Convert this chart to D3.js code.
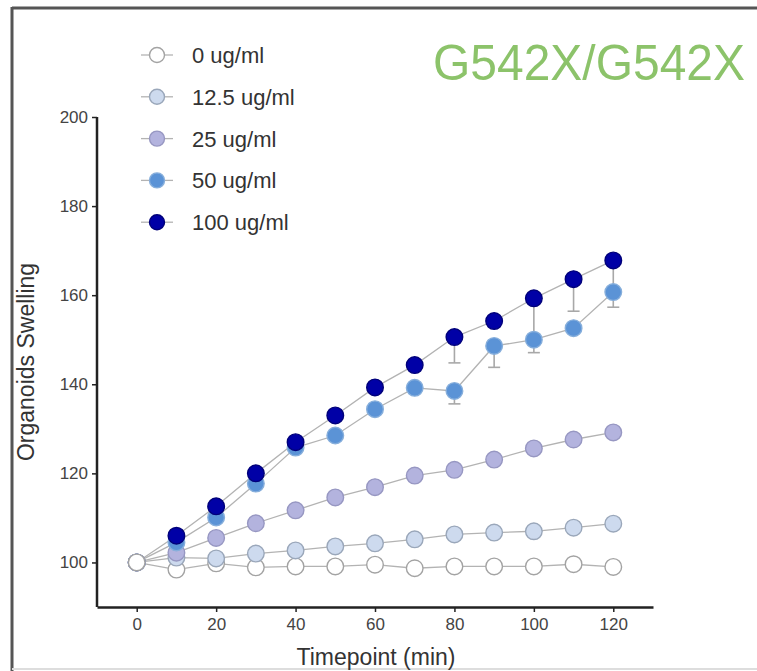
<!DOCTYPE html>
<html lang="en">
<head>
	<meta charset="utf-8">
	<title>Organoids swelling</title>
	<style>
		body { margin: 0; background: #fff; }
		text { font-family: "Liberation Sans", Arial, sans-serif; }
		.axis path, .axis line { stroke: #222; }
		.axis text { fill: #444; font-size: 17px; }
		.link { fill: none; stroke: #b3b3b3; stroke-width: 1.3px; }
		.err { stroke: #a8a8a8; stroke-width: 1.6px; }
	</style>
</head>
<body>
	<div id="chart"></div>

	<script src="https://cdn.jsdelivr.net/npm/d3@7"></script>
	<script>
		var width = 757,
			height = 671;

		// data
		var timepoints = [0, 10, 20, 30, 40, 50, 60, 70, 80, 90, 100, 110, 120];
		var doses = ["0 ug/ml", "12.5 ug/ml", "25 ug/ml", "50 ug/ml", "100 ug/ml"];

		var swelling0 = [100, 98.4, 99.8, 98.9, 99.1, 99.1, 99.5, 98.7, 99.1, 99.1, 99.1, 99.6, 99];
		var swelling12 = [100, 101.1, 100.9, 102, 102.7, 103.6, 104.3, 105.2, 106.3, 106.7, 107, 107.8, 108.7];
		var swelling25 = [100, 102.2, 105.5, 108.8, 111.7, 114.6, 116.9, 119.5, 120.8, 123.1, 125.6, 127.6, 129.2];
		var swelling50 = [100, 104.5, 110.1, 117.7, 125.8, 128.5, 134.4, 139.2, 138.5, 148.6, 150, 152.6, 160.7];
		var swelling100 = [100, 106, 112.6, 120, 127, 133, 139.3, 144.3, 150.6, 154.2, 159.3, 163.6, 167.8];

		// lower error bars (SEM), only where visible
		var sem50 = [0, 0, 0, 0, 0, 0, 0, 0, 2.9, 4.8, 2.9, 0, 3.4];
		var sem100 = [0, 0, 0, 0, 0, 0, 0, 0.8, 5.8, 1, 8.5, 7.2, 6];

		var xTicks = [0, 20, 40, 60, 80, 100, 120];
		var yTicks = [100, 120, 140, 160, 180, 200];

		var fills = ["#ffffff", "#cddaee", "#b3b3de", "#5b93d6", "#0000a6"];
		var strokes = ["#a3a3a3", "#9aa7ba", "#9797c2", "#86aedb", "#00007a"];

		var series = [
			{ name: doses[0], values: swelling0, sem: null },
			{ name: doses[1], values: swelling12, sem: null },
			{ name: doses[2], values: swelling25, sem: null },
			{ name: doses[3], values: swelling50, sem: sem50 },
			{ name: doses[4], values: swelling100, sem: sem100 }
		];

		var svg = d3.select("#chart")
			.append("svg")
			.attr("width", width)
			.attr("height", height);

		// picture frame
		svg.append("line")
			.attr("x1", 12).attr("x2", width).attr("y1", 8).attr("y2", 8)
			.attr("stroke", "#555").attr("stroke-width", 3);
		svg.append("line")
			.attr("x1", 12).attr("x2", 12).attr("y1", 7).attr("y2", height)
			.attr("stroke", "#555").attr("stroke-width", 3);
		svg.append("line")
			.attr("x1", 12).attr("x2", width).attr("y1", 669).attr("y2", 669)
			.attr("stroke", "#ddd").attr("stroke-width", 2);

		var x = d3.scaleLinear().domain([-10, 130]).range([97, 653]);
		var y = d3.scaleLinear().domain([90, 200]).range([607, 117]);

		// axes
		var xAxis = svg.append("g")
			.attr("class", "axis")
			.attr("transform", "translate(0,607)")
			.call(d3.axisBottom(x).tickValues(xTicks).tickSize(5).tickPadding(6).tickSizeOuter(0));
		xAxis.select(".domain").attr("stroke-width", 2.5);
		xAxis.selectAll(".tick line").attr("stroke-width", 1.5);

		var yAxis = svg.append("g")
			.attr("class", "axis")
			.attr("transform", "translate(97,0)")
			.call(d3.axisLeft(y).tickValues(yTicks).tickSize(5).tickPadding(4).tickSizeOuter(0));
		yAxis.select(".domain")
			.attr("d", "M0," + y(200) + "V" + y(90))
			.attr("stroke-width", 2.5);
		yAxis.selectAll(".tick line").attr("stroke-width", 1.5);

		svg.append("text")
			.attr("x", 376)
			.attr("y", 665)
			.attr("text-anchor", "middle")
			.attr("font-size", 23)
			.attr("fill", "#333")
			.text("Timepoint (min)");

		svg.append("text")
			.attr("transform", "translate(34,362) rotate(-90)")
			.attr("text-anchor", "middle")
			.attr("font-size", 23)
			.attr("fill", "#333")
			.text("Organoids Swelling");

		// title
		svg.append("text")
			.attr("x", 433)
			.attr("y", 80)
			.attr("font-family", "'Open Sans', sans-serif")
			.attr("font-size", 50)
			.attr("textLength", 312)
			.attr("lengthAdjust", "spacingAndGlyphs")
			.attr("fill", "#8cc36a")
			.text("G542X/G542X");

		var line = d3.line()
			.x(function (d, i) { return x(timepoints[i]); })
			.y(function (d) { return y(d); });

		// connecting lines
		svg.append("g").selectAll("path")
			.data(series)
			.enter().append("path")
			.attr("class", "link")
			.attr("d", function (d) { return line(d.values); });

		// error bars, drawn downward behind the markers
		series.forEach(function (s) {
			if (!s.sem) return;
			var g = svg.append("g").attr("class", "err");
			timepoints.forEach(function (t, i) {
				if (!s.sem[i]) return;
				var lo = s.values[i] - s.sem[i];
				g.append("line")
					.attr("x1", x(t)).attr("x2", x(t))
					.attr("y1", y(s.values[i])).attr("y2", y(lo));
				g.append("line")
					.attr("x1", x(t) - 6).attr("x2", x(t) + 6)
					.attr("y1", y(lo)).attr("y2", y(lo));
			});
		});

		// markers: later timepoints low dose first, the shared start point with the low dose on top
		var points = [];
		series.forEach(function (s, k) {
			s.values.forEach(function (v, i) {
				if (i > 0) points.push({ k: k, t: timepoints[i], v: v });
			});
		});
		for (var k = series.length - 1; k >= 0; k--) {
			points.push({ k: k, t: timepoints[0], v: series[k].values[0] });
		}

		svg.append("g").selectAll("circle")
			.data(points)
			.enter().append("circle")
			.attr("cx", function (d) { return x(d.t); })
			.attr("cy", function (d) { return y(d.v); })
			.attr("r", 8.3)
			.attr("fill", function (d) { return fills[d.k]; })
			.attr("stroke", function (d) { return strokes[d.k]; })
			.attr("stroke-width", 1.4);

		// legend
		var legend = svg.append("g")
			.selectAll("g")
			.data(series)
			.enter().append("g")
			.attr("transform", function (d, i) { return "translate(157," + (55 + i * 41.8) + ")"; });

		legend.append("line")
			.attr("x1", -16).attr("x2", 16)
			.attr("stroke", "#b3b3b3").attr("stroke-width", 1.3);
		legend.append("circle")
			.attr("r", 7.5)
			.attr("fill", function (d, i) { return fills[i]; })
			.attr("stroke", function (d, i) { return strokes[i]; })
			.attr("stroke-width", 1.4);
		legend.append("text")
			.attr("x", 35)
			.attr("dy", "0.36em")
			.attr("font-size", 22)
			.attr("fill", "#333")
			.text(function (d) { return d.name; });
	</script>
</body>
</html>
